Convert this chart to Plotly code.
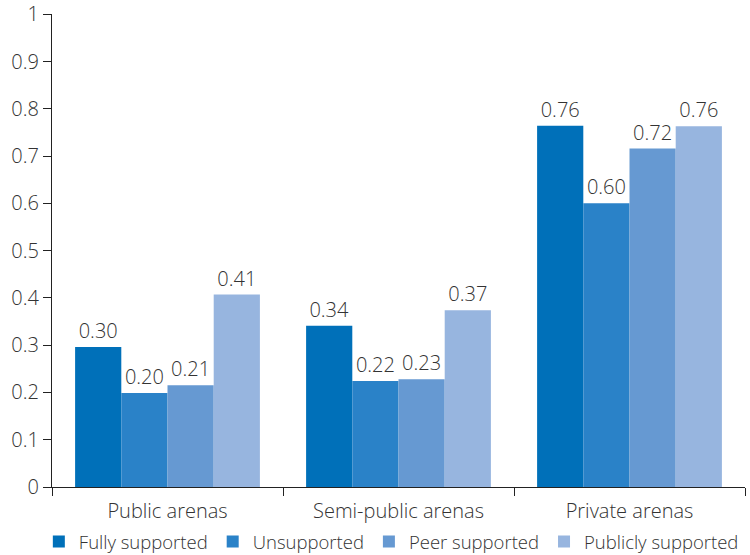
import plotly.graph_objects as go

# Support condition per arena type
categories = ["Public arenas", "Semi-public arenas", "Private arenas"]
series_names = ["Fully supported", "Unsupported", "Peer supported", "Publicly supported"]
fully_supported = [0.296, 0.341, 0.764]
unsupported = [0.199, 0.224, 0.600]
peer_supported = [0.215, 0.228, 0.716]
publicly_supported = [0.407, 0.374, 0.763]
y_ticks = [0, 0.1, 0.2, 0.3, 0.4, 0.5, 0.6, 0.7, 0.8, 0.9, 1]
y_tick_labels = ["0", "0.1", "0.2", "0.3", "0.4", "0.5", "0.6", "0.7", "0.8", "0.9", "1"]

series_values = [fully_supported, unsupported, peer_supported, publicly_supported]
colors = ["#0070b9", "#2a82c8", "#6699d2", "#97b5df"]

FONT = "Open Sans"
TEXT_COLOR = "#333333"
SIZE = 20

fig = go.Figure()
for name, vals, col in zip(series_names, series_values, colors):
    fig.add_trace(go.Bar(
        x=categories,
        y=vals,
        name=name,
        marker=dict(color=col, line=dict(width=0)),
        texttemplate="%{y:.2f}",
        textposition="outside",
        textfont=dict(family=FONT, size=SIZE, color=TEXT_COLOR, weight=300),
        cliponaxis=False,
    ))

fig.update_layout(
    width=750,
    height=555,
    margin=dict(l=52, r=5, t=14, b=68, autoexpand=False),
    paper_bgcolor="white",
    plot_bgcolor="white",
    barmode="group",
    bargap=0.2,
    bargroupgap=0,
    font=dict(family=FONT, size=SIZE, color=TEXT_COLOR, weight=300),
    showlegend=True,
    legend=dict(
        orientation="h",
        x=-0.019,
        xanchor="left",
        y=-0.076,
        yanchor="top",
        font=dict(family=FONT, size=18.5, color=TEXT_COLOR, weight=300),
        itemwidth=30,
        tracegroupgap=0,
        traceorder="normal",
    ),
)

fig.update_xaxes(
    type="category",
    showline=True,
    linecolor="#222222",
    linewidth=1.2,
    ticks="outside",
    tickson="boundaries",
    ticklen=8,
    tickcolor="#222222",
    tickwidth=1.2,
    ticklabelstandoff=6,
    showgrid=False,
    tickfont=dict(family=FONT, size=SIZE, color=TEXT_COLOR, weight=300),
)

fig.update_yaxes(
    range=[0, 1.0005],
    tickvals=y_ticks,
    ticktext=y_tick_labels,
    ticklabeloverflow="allow",
    showline=True,
    linecolor="#222222",
    linewidth=1.2,
    ticks="outside",
    ticklen=8,
    tickcolor="#222222",
    tickwidth=1.2,
    showgrid=False,
    zeroline=False,
    tickfont=dict(family=FONT, size=SIZE, color=TEXT_COLOR, weight=300),
)

fig.write_html("out.html")
